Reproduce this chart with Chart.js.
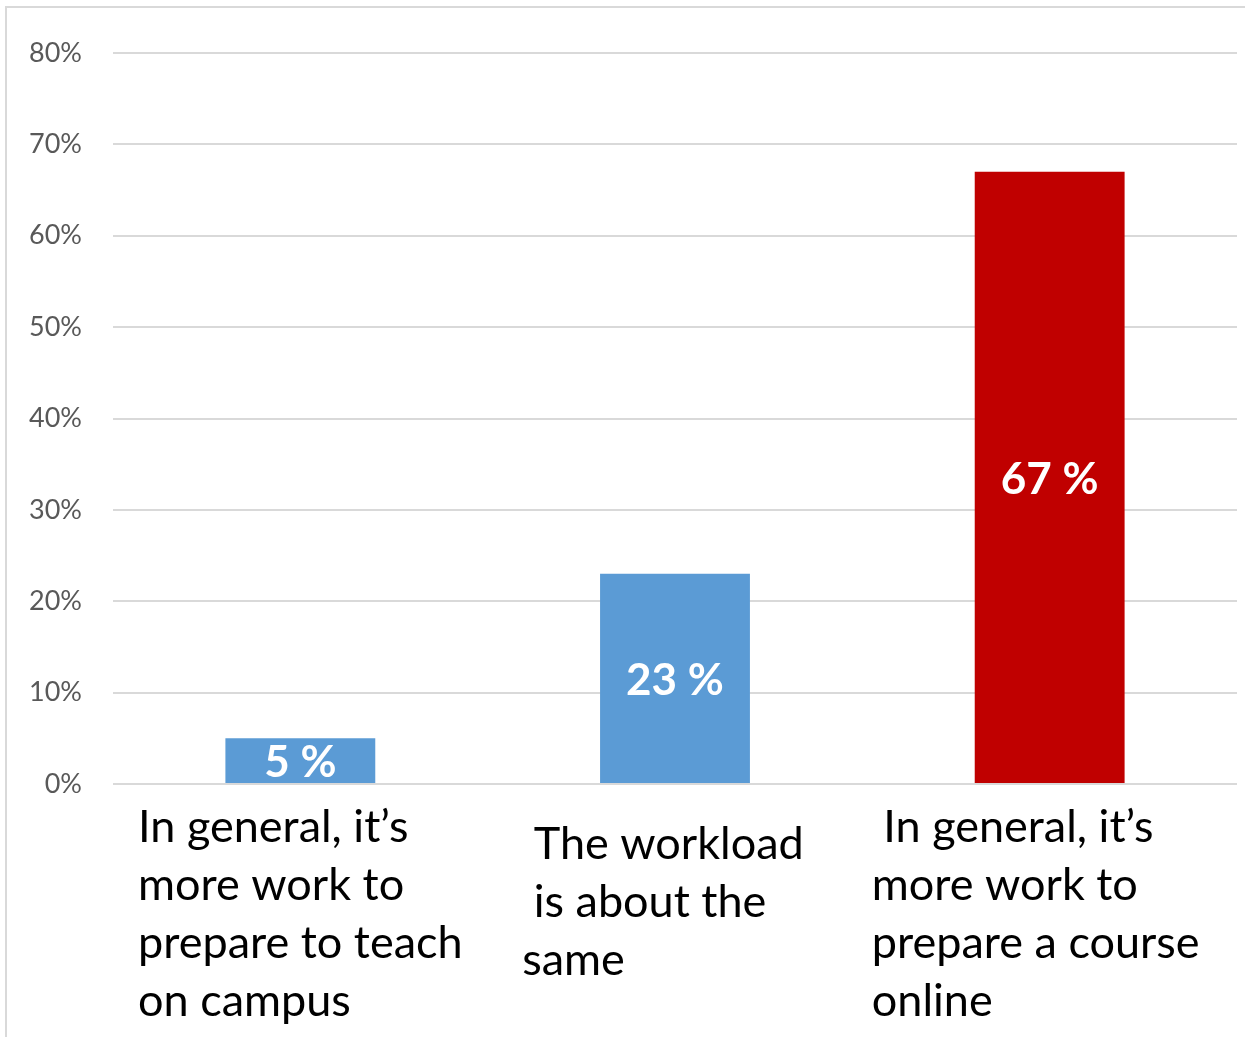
<!DOCTYPE html>
<html>
<head>
<meta charset="utf-8">
<script src="https://cdn.jsdelivr.net/npm/chart.js@4.4.0/dist/chart.umd.min.js"></script>
<style>
  html, body { margin: 0; padding: 0; background: #ffffff; }
  #wrap { width: 1245px; height: 1037px; position: relative; }
</style>
</head>
<body>
<div id="wrap"><canvas id="barChart" width="1245" height="1037"></canvas></div>
<script>
// answers, one entry per bar (lines of each wrapped label)
const categories = [
  ["In general, it\u2019s", "more work to", "prepare to teach", "on campus"],
  [" The workload", " is about the", "same"],
  [" In general, it\u2019s", "more work to", "prepare a course", "online"]
];
const shares = [5, 23, 67];
const barColors = ['#5b9bd5', '#5b9bd5', '#c00000'];
const yTicks = [0, 10, 20, 30, 40, 50, 60, 70, 80];

// frame line on the left and top edges
const framePlugin = {
  id: 'frame',
  beforeDraw(chart) {
    const c = chart.ctx;
    c.save();
    c.strokeStyle = '#d9d9d9';
    c.lineWidth = 2;
    c.beginPath();
    c.moveTo(6, chart.height);
    c.lineTo(6, 7);
    c.lineTo(chart.width, 7);
    c.stroke();
    c.restore();
  }
};

// value text inside the bars and wrapped category text under the axis
const labelPlugin = {
  id: 'labels',
  afterDatasetsDraw(chart) {
    const c = chart.ctx;
    const meta = chart.getDatasetMeta(0);
    const xs = chart.scales.x;
    c.save();
    c.fillStyle = '#ffffff';
    c.font = 'bold 44px Lato';
    c.textAlign = 'center';
    c.textBaseline = 'middle';
    meta.data.forEach((bar, i) => {
      const mid = (bar.y + bar.base) / 2;
      c.fillText(shares[i] + ' %', bar.x, mid + 2);
    });

    // text boxes sit a little left of the tick centre, the short one higher
    const nudge = [[0, 0], [-12, -12], [-14, 0]];
    c.fillStyle = '#000000';
    c.font = '45px Lato';
    c.textAlign = 'left';
    const lineH = 58;
    const blockMid = chart.chartArea.bottom + 130;
    categories.forEach((lines, i) => {
      const cx = xs.getPixelForValue(i);
      const w = Math.max(...lines.map(l => c.measureText(l).width));
      const left = cx - w / 2 + nudge[i][0];
      const top = blockMid - (lines.length - 1) * lineH / 2 + nudge[i][1];
      lines.forEach((l, j) => c.fillText(l, left, top + j * lineH));
    });
    c.restore();
  }
};

const ctx = document.getElementById('barChart').getContext('2d');
const myChart = new Chart(ctx, {
  type: 'bar',
  data: {
    labels: categories.map(l => l.join(' ')),
    datasets: [{
      data: shares,
      backgroundColor: barColors,
      borderWidth: 0,
      categoryPercentage: 1,
      barPercentage: 0.4
    }]
  },
  options: {
    responsive: false,
    animation: false,
    layout: { padding: { top: 53, right: 8, left: 0, bottom: 0 } },
    plugins: {
      legend: { display: false },
      tooltip: { enabled: false }
    },
    scales: {
      x: {
        grid: { display: false },
        border: { display: false },
        ticks: { display: false },
        afterFit(s) { s.height = 253; }
      },
      y: {
        min: 0,
        max: 80,
        afterBuildTicks(s) { s.ticks = yTicks.map(v => ({ value: v })); },
        grid: { color: '#d9d9d9', lineWidth: 2, drawTicks: false },
        border: { display: false },
        ticks: {
          color: '#595959',
          font: { family: 'Lato', size: 27 },
          padding: 31,
          callback: v => v + '%'
        },
        afterFit(s) { s.width = 113; s.paddingTop = 0; }
      }
    }
  },
  plugins: [framePlugin, labelPlugin]
});
</script>
</body>
</html>
